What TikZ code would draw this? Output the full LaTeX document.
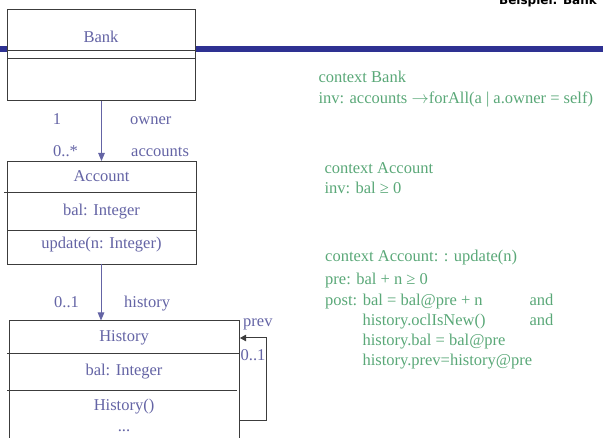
\documentclass[tikz,border=0pt]{standalone}
\usepackage{fontspec}
\setmainfont{Liberation Serif}
\newfontfamily\titlefont{DejaVu Sans}
\usetikzlibrary{arrows.meta}
\definecolor{umltext}{RGB}{100,100,165}
\definecolor{ocl}{RGB}{90,168,120}
\definecolor{band}{RGB}{46,49,146}
\definecolor{boxline}{RGB}{60,60,60}
\begin{document}
\begin{tikzpicture}[x=1pt,y=-1pt,
  umlbox/.style={draw=boxline,line width=1pt,fill=white,inner sep=0pt,anchor=north west},
  sep/.style={draw=boxline,line width=1pt},
  utext/.style={text=umltext,font=\fontsize{16.5}{20}\selectfont,inner sep=0pt,anchor=base},
  ulabel/.style={utext,anchor=base west},
  otext/.style={text=ocl,font=\fontsize{16.5}{20}\selectfont,inner sep=0pt,anchor=base west},
  assoc/.style={draw=umltext,line width=1pt,-{Triangle[length=8pt,width=6.5pt]}},
  selfassoc/.style={draw=boxline,line width=1pt,-{Triangle[length=6pt,width=6.5pt]}}]
\useasboundingbox (0,0) rectangle (603,438);
\clip (0,0) rectangle (603,438);
% header band and title
\fill[band] (0,46.5) rectangle (603,52.5);
\node[font=\titlefont\bfseries\fontsize{12}{14}\selectfont,text=black,inner sep=0pt,anchor=base east] (title) at (597,5) {Beispiel: Bank};
% Bank
\node[umlbox,minimum width=188pt,minimum height=91pt] (bank) at (7,9) {};
\draw[sep] (7,50.5) -- (195,50.5);
\draw[sep] (7,59) -- (195,59);
\node[utext] (bankname) at (101,42.5) {Bank};
% Account
\node[umlbox,minimum width=189pt,minimum height=103pt] (account) at (7,161) {};
\draw[sep] (4,193) -- (196,193);
\draw[sep] (7,231) -- (196,231);
\node[utext] (accname) at (101.5,181.5) {Account};
\node[utext] (accbal) at (101.5,215.5) {bal: Integer};
\node[utext] (accupd) at (101.5,249) {update(n: Integer)};
% History
\node[umlbox,minimum width=230pt,minimum height=130pt] (history) at (9,320.5) {};
\draw[sep] (7,354) -- (239,354);
\draw[sep] (7,391) -- (237,391);
\node[utext] (histname) at (124,342) {History};
\node[utext] (histbal) at (124,376) {bal: Integer};
\node[utext] (histctor) at (124,411) {History()};
\node[utext] (histdots) at (124,432) {...};
% associations
\draw[assoc] (bank.south) -- (bank.south |- account.north);
\node[utext] (m1) at (57,125) {1};
\node[ulabel] (rowner) at (130,125) {owner};
\node[ulabel] (m0s) at (53,156.5) {0..*};
\node[ulabel] (raccounts) at (131,156.5) {accounts};
\coordinate (accout) at (101,264);
\draw[assoc] (accout) -- (accout |- history.north);
\node[ulabel] (m01) at (54,308) {0..1};
\node[ulabel] (rhistory) at (124,308) {history};
% self association prev
\coordinate (loopa) at (239,421);
\coordinate (loopb) at (266,421);
\coordinate (loopc) at (266,338);
\coordinate (loopd) at (240,338);
\draw[selfassoc] (loopa) -- (loopb) -- (loopc) -- (loopd);
\node[ulabel] (rprev) at (243,326.5) {prev};
\node[ulabel] (m01b) at (240.5,361) {0..1};
% OCL constraints
\node[otext] (c1a) at (318.3,82.7) {context Bank};
\node[otext] (c1b) at (318.3,103.3) {inv: accounts $\rightarrow$forAll(a | a.owner = self)};
\node[otext] (c2a) at (324.3,173.3) {context Account};
\node[otext] (c2b) at (324.3,193.3) {inv: bal ≥ 0};
\node[otext] (c3a) at (325,261.7) {context Account: : update(n)};
\node[otext] (c3b) at (325,285) {pre: bal + n ≥ 0};
\node[otext] (c3c) at (325,305.3) {post: bal = bal@pre + n};
\node[otext] (c3d) at (362.3,325.3) {history.oclIsNew()};
\node[otext] (c3e) at (362.3,346) {history.bal = bal@pre};
\node[otext] (c3f) at (362.3,366) {history.prev=history@pre};
\node[otext] (and1) at (529.3,305.3) {and};
\node[otext] (and2) at (529.3,325.3) {and};
\end{tikzpicture}
\end{document}
